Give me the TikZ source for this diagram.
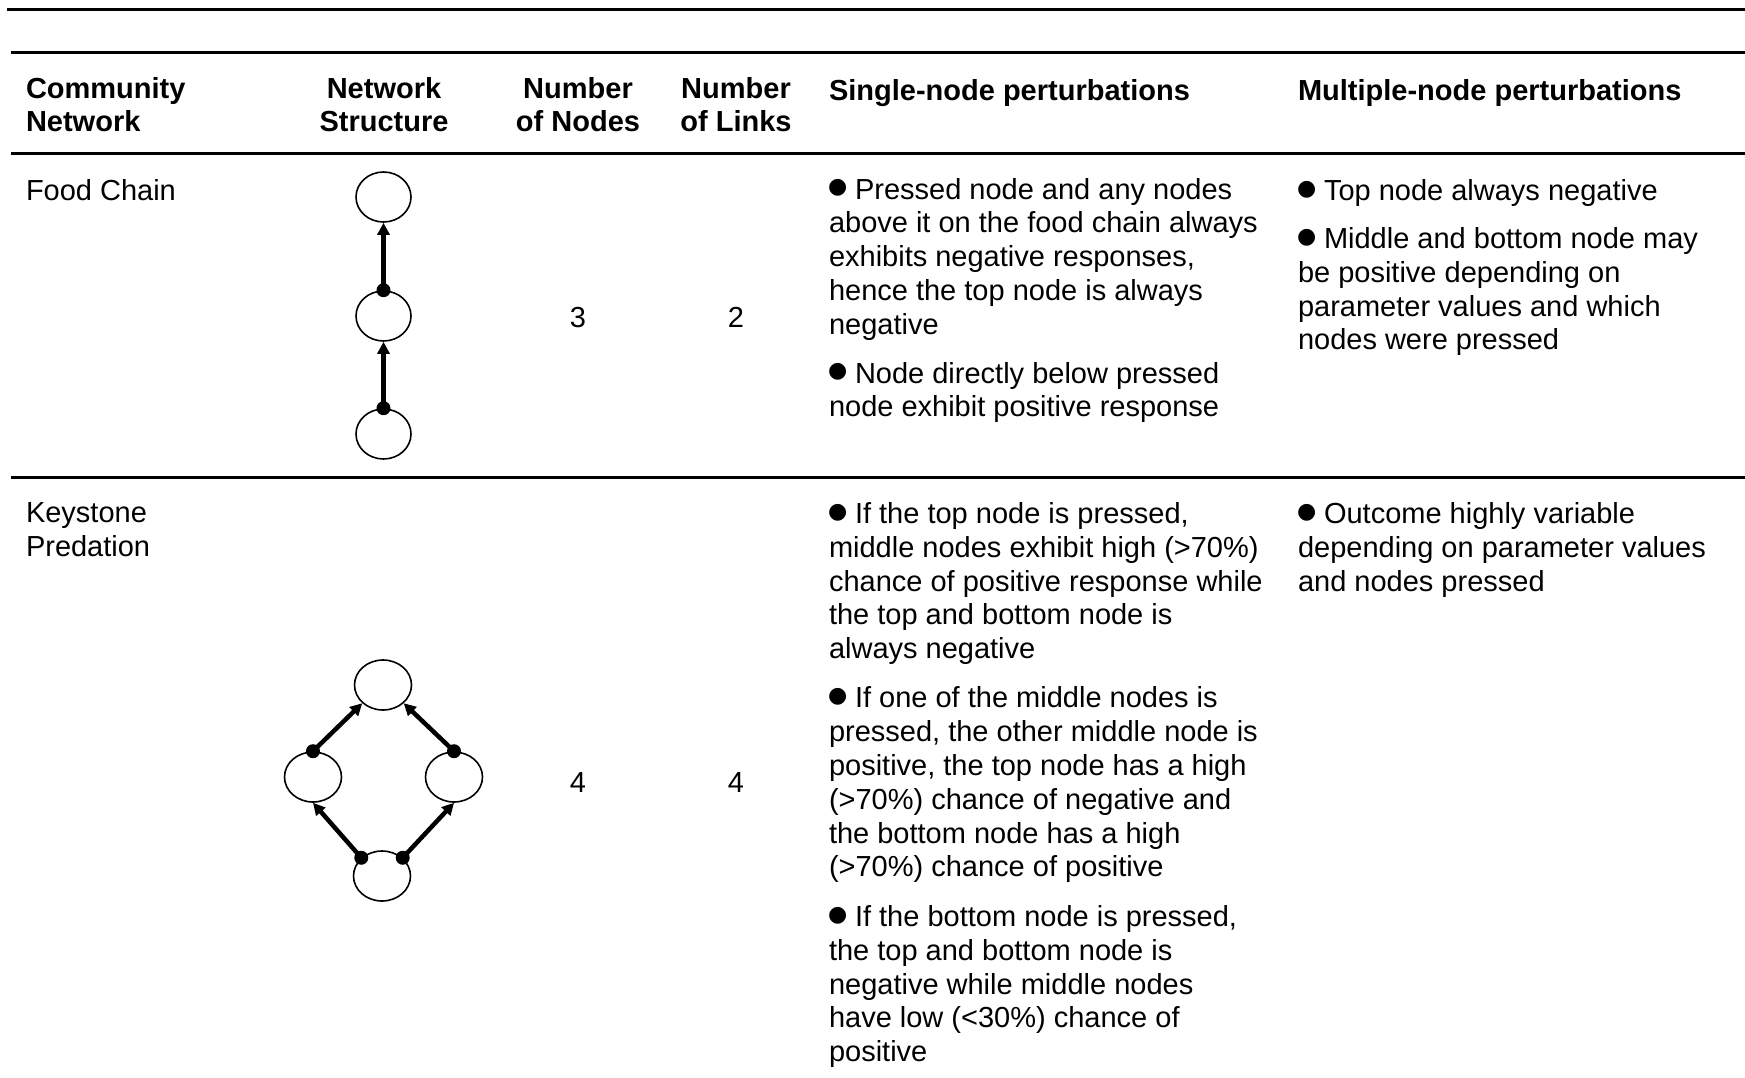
\documentclass[tikz,border=0pt]{standalone}
\usepackage{fontspec}
\setmainfont{Liberation Sans}
\newfontfamily\symfnt{DejaVu Sans}
\usetikzlibrary{shapes.geometric,arrows.meta}
\newcommand\bul{\makebox[26pt][l]{\hspace*{-1pt}\raisebox{5.5pt}{\symfnt\fontsize{22}{22}\selectfont ●}}}
\begin{document}
\begin{tikzpicture}[x=1pt,y=-1pt,
  txt/.style={inner sep=0pt, outer sep=0pt, font=\fontsize{29}{33.8}\selectfont, align=left, anchor=north west, execute at begin node=\strut},
  ctxt/.style={txt, align=center, anchor=north},
  hdr/.style={txt, font=\fontsize{29}{33.8}\selectfont\bfseries},
  chdr/.style={ctxt, font=\fontsize{29}{33.8}\selectfont\bfseries},
  rulestyle/.style={line width=3pt},
  spp/.style={ellipse, draw, line width=1.6pt, minimum width=55pt, minimum height=50pt, inner sep=0pt},
  link/.style={line width=4.5pt, -{Triangle[length=12pt,width=12pt]}},
  dotstyle/.style={fill=black}
]
\useasboundingbox (0,0) rectangle (1745,1078);

% rules
\draw[rulestyle] (7,10) -- (1745,10);
\draw[rulestyle] (11,53) -- (1745,53);
\draw[rulestyle] (11,154) -- (1745,154);
\draw[rulestyle] (11,477.5) -- (1745,477.5);

% header
\node[hdr] (h1) at (26,77) {Community\\Network};
\node[chdr] (h2) at (384,77) {Network\\Structure};
\node[chdr] (h3) at (578,77) {Number\\of Nodes};
\node[chdr] (h4) at (736,77) {Number\\of Links};
\node[hdr] (h5) at (829,77) {Single-node perturbations};
\node[hdr] (h6) at (1298,77) {Multiple-node perturbations};

% row 1
\node[txt] (r1a) at (26,177) {Food Chain};
\node[ctxt] (r1n) at (578,304) {3};
\node[ctxt] (r1l) at (736,304) {2};
\node[txt] (r1s1) at (829,178) {\bul Pressed node and any nodes\\above it on the food chain always\\exhibits negative responses,\\hence the top node is always\\negative};
\node[txt] (r1s2) at (829,362) {\bul Node directly below pressed\\node exhibit positive response};
\node[txt] (r1m1) at (1298,177) {\bul Top node always negative};
\node[txt] (r1m2) at (1298,227.5) {\bul Middle and bottom node may\\be positive depending on\\parameter values and which\\nodes were pressed};

% food chain network
\node[spp] (fc1) at (383.5,197) {};
\node[spp] (fc2) at (383.5,316) {};
\node[spp] (fc3) at (383.5,434) {};
\draw[link] (fc2.north) -- (fc1.south);
\draw[link] (fc3.north) -- (fc2.south);
\fill[dotstyle] (fc2.north) circle (7pt);
\fill[dotstyle] (fc3.north) circle (7pt);

% row 2
\node[txt] (r2a) at (26,503) {Keystone\\Predation};
\node[ctxt] (r2n) at (578,769) {4};
\node[ctxt] (r2l) at (736,769) {4};
\node[txt] (r2s1) at (829,502.5) {\bul If the top node is pressed,\\middle nodes exhibit high (>70\%)\\chance of positive response while\\the top and bottom node is\\always negative};
\node[txt] (r2s2) at (829,686.8) {\bul If one of the middle nodes is\\pressed, the other middle node is\\positive, the top node has a high\\(>70\%) chance of negative and\\the bottom node has a high\\(>70\%) chance of positive};
\node[txt] (r2s3) at (829,905.5) {\bul If the bottom node is pressed,\\the top and bottom node is\\negative while middle nodes\\have low (<30\%) chance of\\positive};
\node[txt] (r2m1) at (1298,502.5) {\bul Outcome highly variable\\depending on parameter values\\and nodes pressed};

% keystone network
\node[spp, minimum width=57pt] (kT) at (383,685) {};
\node[spp, minimum width=57pt] (kL) at (313,777) {};
\node[spp, minimum width=57pt] (kR) at (454,777) {};
\node[spp, minimum width=57pt] (kB) at (382,876) {};
\draw[link] (kL.north) -- (kT.south west);
\draw[link] (kR.north) -- (kT.south east);
\draw[link] (kB.north west) -- (kL.south);
\draw[link] (kB.north east) -- (kR.south);
\fill[dotstyle] (kL.north) circle (7pt);
\fill[dotstyle] (kR.north) circle (7pt);
\fill[dotstyle] (kB.north west) circle (7pt);
\fill[dotstyle] (kB.north east) circle (7pt);
\end{tikzpicture}
\end{document}
